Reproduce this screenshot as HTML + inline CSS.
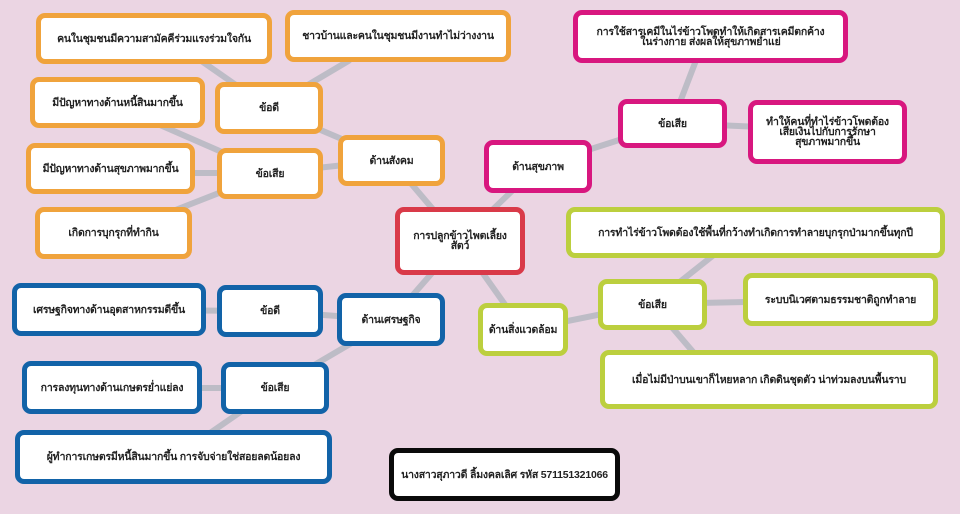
<!DOCTYPE html>
<html><head><meta charset="utf-8"><style>
body{margin:0;width:960px;height:514px;background:#ebd5e3;position:relative;overflow:hidden;font-family:"Liberation Sans","Noto Sans CJK SC",sans-serif}
.b{position:absolute;box-sizing:border-box;background:#fff;border:5px solid;border-radius:9px;display:flex;align-items:center;justify-content:center;text-align:center;font-size:10.5px;font-weight:bold;color:#222;line-height:10px;padding:0 3px;letter-spacing:-0.2px;white-space:nowrap}
.o{border-color:#f0a33c}.p{border-color:#d8177f}.g{border-color:#bccf3e}.u{border-color:#1263a8}.r{border-color:#d93a49}.k{border-color:#0a0a0a}
svg{position:absolute;left:0;top:0}
</style></head><body>
<svg width="960" height="514"><g stroke="#bdbcc6" stroke-width="6">
<line x1="460" y1="241" x2="391" y2="160"/><line x1="460" y1="241" x2="538" y2="166"/><line x1="460" y1="241" x2="523" y2="330"/><line x1="460" y1="241" x2="391" y2="320"/>
<line x1="391" y1="160" x2="269" y2="108"/><line x1="391" y1="160" x2="270" y2="173"/>
<line x1="269" y1="108" x2="200" y2="60"/><line x1="269" y1="108" x2="350" y2="60"/>
<line x1="270" y1="173" x2="160" y2="125"/><line x1="270" y1="173" x2="110" y2="173"/><line x1="270" y1="173" x2="150" y2="220"/>
<line x1="538" y1="166" x2="672" y2="123"/><line x1="672" y1="123" x2="700" y2="50"/><line x1="672" y1="123" x2="827" y2="130"/>
<line x1="523" y1="330" x2="652" y2="304"/><line x1="652" y1="304" x2="720" y2="250"/><line x1="652" y1="304" x2="840" y2="300"/><line x1="652" y1="304" x2="700" y2="360"/>
<line x1="391" y1="320" x2="270" y2="311"/><line x1="391" y1="320" x2="275" y2="388"/>
<line x1="270" y1="311" x2="110" y2="310"/><line x1="275" y1="388" x2="112" y2="388"/><line x1="275" y1="388" x2="200" y2="440"/>
</g></svg>
<div class="b o" style="left:36px;top:13px;width:236px;height:51px">คนในชุมชนมีความสามัคคีร่วมแรงร่วมใจกัน</div>
<div class="b o" style="left:285px;top:10px;width:226px;height:52px">ชาวบ้านและคนในชุมชนมีงานทำไม่ว่างงาน</div>
<div class="b o" style="left:30px;top:77px;width:175px;height:51px">มีปัญหาทางด้านหนี้สินมากขึ้น</div>
<div class="b o" style="left:215px;top:82px;width:108px;height:52px">ข้อดี</div>
<div class="b o" style="left:338px;top:135px;width:107px;height:51px">ด้านสังคม</div>
<div class="b o" style="left:26px;top:143px;width:169px;height:51px">มีปัญหาทางด้านสุขภาพมากขึ้น</div>
<div class="b o" style="left:217px;top:148px;width:106px;height:51px">ข้อเสีย</div>
<div class="b o" style="left:35px;top:207px;width:157px;height:52px">เกิดการบุกรุกที่ทำกิน</div>
<div class="b r" style="left:395px;top:207px;width:130px;height:68px">การปลูกข้าวไพตเลี้ยง<br>สัตว์</div>
<div class="b p" style="left:484px;top:140px;width:108px;height:53px">ด้านสุขภาพ</div>
<div class="b p" style="left:618px;top:99px;width:109px;height:49px">ข้อเสีย</div>
<div class="b p" style="left:573px;top:10px;width:275px;height:53px">การใช้สารเคมีในไร่ข้าวโพดทำให้เกิดสารเคมีตกค้าง<br>ในร่างกาย ส่งผลให้สุขภาพย่ำแย่</div>
<div class="b p" style="left:748px;top:100px;width:159px;height:64px">ทำให้คนที่ทำไร่ข้าวโพดต้อง<br>เสียเงินไปกับการรักษา<br>สุขภาพมากขึ้น</div>
<div class="b g" style="left:566px;top:207px;width:379px;height:51px">การทำไร่ข้าวโพดต้องใช้พื้นที่กว้างทำเกิดการทำลายบุกรุกป่ามากขึ้นทุกปี</div>
<div class="b g" style="left:598px;top:279px;width:109px;height:51px">ข้อเสีย</div>
<div class="b g" style="left:743px;top:273px;width:195px;height:53px">ระบบนิเวศตามธรรมชาติถูกทำลาย</div>
<div class="b g" style="left:600px;top:350px;width:338px;height:59px">เมื่อไม่มีป่าบนเขาก็ไหยหลาก เกิดดินชุดตัว น่าท่วมลงบนพื้นราบ</div>
<div class="b g" style="left:478px;top:303px;width:90px;height:53px">ด้านสิ่งแวดล้อม</div>
<div class="b u" style="left:337px;top:293px;width:108px;height:53px">ด้านเศรษฐกิจ</div>
<div class="b u" style="left:217px;top:285px;width:106px;height:52px">ข้อดี</div>
<div class="b u" style="left:12px;top:283px;width:194px;height:53px">เศรษฐกิจทางด้านอุตสาหกรรมดีขึ้น</div>
<div class="b u" style="left:22px;top:361px;width:180px;height:53px">การลงทุนทางด้านเกษตรย่ำแย่ลง</div>
<div class="b u" style="left:221px;top:362px;width:108px;height:52px">ข้อเสีย</div>
<div class="b u" style="left:15px;top:430px;width:317px;height:54px">ผู้ทำการเกษตรมีหนี้สินมากขึ้น การจับจ่ายใช่สอยลดน้อยลง</div>
<div class="b k" style="left:389px;top:448px;width:231px;height:53px">นางสาวสุภาวดี ลิ้มงคลเลิศ รหัส 571151321066</div>
</body></html>
